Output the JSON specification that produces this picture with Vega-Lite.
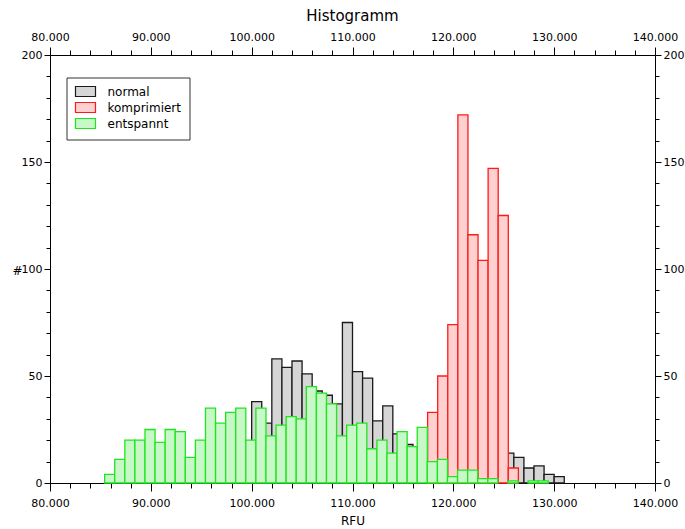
{
  "$schema": "https://vega.github.io/schema/vega-lite/v6.json",
  "width": 605,
  "height": 428,
  "autosize": "none",
  "padding": {"left": 50, "top": 55, "right": 30, "bottom": 46},
  "background": "white",
  "title": {"text": "Histogramm", "font": "DejaVu Sans", "fontSize": 15, "fontWeight": "normal", "color": "#000", "offset": 7, "anchor": "middle"},
  "config": {
    "view": {"stroke": null},
    "font": "DejaVu Sans",
    "axis": {"grid": false, "domainColor": "#000", "tickColor": "#000", "labelColor": "#000", "labelFont": "DejaVu Sans", "labelFontSize": 11, "titleFont": "DejaVu Sans", "titleFontWeight": "normal", "titleColor": "#000", "labelOverlap": false, "labelFlush": false, "domainWidth": 1, "tickWidth": 1}
  },
  "data": {"values": [
    {"s": "normal", "x0": 100000, "x1": 101000, "n": 38},
    {"s": "normal", "x0": 101000, "x1": 102000, "n": 28},
    {"s": "normal", "x0": 102000, "x1": 103000, "n": 58},
    {"s": "normal", "x0": 103000, "x1": 104000, "n": 54},
    {"s": "normal", "x0": 104000, "x1": 105000, "n": 57},
    {"s": "normal", "x0": 105000, "x1": 106000, "n": 51},
    {"s": "normal", "x0": 106000, "x1": 107000, "n": 43},
    {"s": "normal", "x0": 107000, "x1": 108000, "n": 41},
    {"s": "normal", "x0": 108000, "x1": 109000, "n": 37},
    {"s": "normal", "x0": 109000, "x1": 110000, "n": 75},
    {"s": "normal", "x0": 110000, "x1": 111000, "n": 52},
    {"s": "normal", "x0": 111000, "x1": 112000, "n": 49},
    {"s": "normal", "x0": 112000, "x1": 113000, "n": 29},
    {"s": "normal", "x0": 113000, "x1": 114000, "n": 36},
    {"s": "normal", "x0": 114000, "x1": 115000, "n": 23},
    {"s": "normal", "x0": 115000, "x1": 116000, "n": 18},
    {"s": "normal", "x0": 125000, "x1": 126000, "n": 14},
    {"s": "normal", "x0": 126000, "x1": 127000, "n": 12},
    {"s": "normal", "x0": 127000, "x1": 128000, "n": 7},
    {"s": "normal", "x0": 128000, "x1": 129000, "n": 8},
    {"s": "normal", "x0": 129000, "x1": 130000, "n": 4},
    {"s": "normal", "x0": 130000, "x1": 131000, "n": 3},
    {"s": "komprimiert", "x0": 117450, "x1": 118450, "n": 33},
    {"s": "komprimiert", "x0": 118450, "x1": 119450, "n": 50},
    {"s": "komprimiert", "x0": 119450, "x1": 120450, "n": 74},
    {"s": "komprimiert", "x0": 120450, "x1": 121450, "n": 172},
    {"s": "komprimiert", "x0": 121450, "x1": 122450, "n": 116},
    {"s": "komprimiert", "x0": 122450, "x1": 123450, "n": 104},
    {"s": "komprimiert", "x0": 123450, "x1": 124450, "n": 147},
    {"s": "komprimiert", "x0": 124450, "x1": 125450, "n": 125},
    {"s": "komprimiert", "x0": 125450, "x1": 126450, "n": 7},
    {"s": "entspannt", "x0": 85420, "x1": 86420, "n": 4},
    {"s": "entspannt", "x0": 86420, "x1": 87420, "n": 11},
    {"s": "entspannt", "x0": 87420, "x1": 88420, "n": 20},
    {"s": "entspannt", "x0": 88420, "x1": 89420, "n": 20},
    {"s": "entspannt", "x0": 89420, "x1": 90420, "n": 25},
    {"s": "entspannt", "x0": 90420, "x1": 91420, "n": 19},
    {"s": "entspannt", "x0": 91420, "x1": 92420, "n": 25},
    {"s": "entspannt", "x0": 92420, "x1": 93420, "n": 24},
    {"s": "entspannt", "x0": 93420, "x1": 94420, "n": 12},
    {"s": "entspannt", "x0": 94420, "x1": 95420, "n": 20},
    {"s": "entspannt", "x0": 95420, "x1": 96420, "n": 35},
    {"s": "entspannt", "x0": 96420, "x1": 97420, "n": 28},
    {"s": "entspannt", "x0": 97420, "x1": 98420, "n": 33},
    {"s": "entspannt", "x0": 98420, "x1": 99420, "n": 35},
    {"s": "entspannt", "x0": 99420, "x1": 100420, "n": 20},
    {"s": "entspannt", "x0": 100420, "x1": 101420, "n": 35},
    {"s": "entspannt", "x0": 101420, "x1": 102420, "n": 22},
    {"s": "entspannt", "x0": 102420, "x1": 103420, "n": 27},
    {"s": "entspannt", "x0": 103420, "x1": 104420, "n": 31},
    {"s": "entspannt", "x0": 104420, "x1": 105420, "n": 30},
    {"s": "entspannt", "x0": 105420, "x1": 106420, "n": 45},
    {"s": "entspannt", "x0": 106420, "x1": 107420, "n": 42},
    {"s": "entspannt", "x0": 107420, "x1": 108420, "n": 37},
    {"s": "entspannt", "x0": 108420, "x1": 109420, "n": 22},
    {"s": "entspannt", "x0": 109420, "x1": 110420, "n": 27},
    {"s": "entspannt", "x0": 110420, "x1": 111420, "n": 28},
    {"s": "entspannt", "x0": 111420, "x1": 112420, "n": 16},
    {"s": "entspannt", "x0": 112420, "x1": 113420, "n": 20},
    {"s": "entspannt", "x0": 113420, "x1": 114420, "n": 14},
    {"s": "entspannt", "x0": 114420, "x1": 115420, "n": 24},
    {"s": "entspannt", "x0": 115420, "x1": 116420, "n": 17},
    {"s": "entspannt", "x0": 116420, "x1": 117420, "n": 26},
    {"s": "entspannt", "x0": 117420, "x1": 118420, "n": 10},
    {"s": "entspannt", "x0": 118420, "x1": 119420, "n": 11},
    {"s": "entspannt", "x0": 119420, "x1": 120420, "n": 3},
    {"s": "entspannt", "x0": 120420, "x1": 121420, "n": 6},
    {"s": "entspannt", "x0": 121420, "x1": 122420, "n": 6},
    {"s": "entspannt", "x0": 122420, "x1": 123420, "n": 2},
    {"s": "entspannt", "x0": 123420, "x1": 124420, "n": 2},
    {"s": "entspannt", "x0": 125420, "x1": 126420, "n": 1},
    {"s": "entspannt", "x0": 127420, "x1": 128420, "n": 1},
    {"s": "entspannt", "x0": 128420, "x1": 129420, "n": 1}
  ]},
  "layer": [
    {
      "mark": {"type": "bar", "strokeWidth": 1.3},
      "encoding": {
        "x": {"field": "x0", "type": "quantitative", "scale": {"domain": [80000, 140000], "nice": false, "zero": false},
          "axis": {"orient": "bottom", "values": [80000,82000,84000,86000,88000,90000,92000,94000,96000,98000,100000,102000,104000,106000,108000,110000,112000,114000,116000,118000,120000,122000,124000,126000,128000,130000,132000,134000,136000,138000,140000],
            "labelExpr": "datum.value % 10000 === 0 ? replace(format(datum.value, ','), ',', '.') : ''",
            "tickSize": {"condition": {"test": "datum.value % 10000 === 0", "value": 8}, "value": 5},
            "labelPadding": 6, "title": "RFU", "titleFontSize": 12, "titlePadding": 7}},
        "x2": {"field": "x1"},
        "y": {"field": "n", "type": "quantitative", "stack": null, "scale": {"domain": [0, 200], "nice": false},
          "axis": {"orient": "left", "values": [0,10,20,30,40,50,60,70,80,90,100,110,120,130,140,150,160,170,180,190,200],
            "labelExpr": "datum.value % 50 === 0 ? datum.label : ''",
            "tickSize": {"condition": {"test": "datum.value % 50 === 0", "value": 6}, "value": 4},
            "labelPadding": 2, "title": "#", "titleAngle": 0, "titleX": -33, "titleY": 215, "titleAlign": "center", "titleBaseline": "middle", "titleFontSize": 12}},
        "y2": {"datum": 0},
        "fill": {"field": "s", "type": "nominal",
          "scale": {"domain": ["normal", "komprimiert", "entspannt"], "range": ["#d6d6d6", "#ffd0d0", "#c8f7c8"]},
          "legend": {"title": null, "orient": "none", "legendX": 16.5, "legendY": 22.5, "symbolType": "M-1,-1H3V1H-1Z", "symbolSize": 100, "symbolStrokeWidth": 1.2, "labelFont": "DejaVu Sans", "labelFontSize": 12, "labelColor": "#000", "labelOffset": 21, "padding": 8, "rowPadding": 0, "strokeColor": "#333", "fillColor": "white"}},
        "stroke": {"field": "s", "type": "nominal",
          "scale": {"domain": ["normal", "komprimiert", "entspannt"], "range": ["#1a1a1a", "#ff1a1a", "#1ee61e"]},
          "legend": {"title": null, "orient": "none", "legendX": 16.5, "legendY": 22.5, "symbolType": "M-1,-1H3V1H-1Z", "symbolSize": 100, "symbolStrokeWidth": 1.2, "labelFont": "DejaVu Sans", "labelFontSize": 12, "labelColor": "#000", "labelOffset": 21, "padding": 8, "rowPadding": 0, "strokeColor": "#333", "fillColor": "white"}}
      }
    },
    {
      "mark": {"type": "point", "opacity": 0},
      "encoding": {
        "x": {"field": "x0", "type": "quantitative", "scale": {"domain": [80000, 140000], "nice": false, "zero": false},
          "axis": {"orient": "top", "values": [80000,82000,84000,86000,88000,90000,92000,94000,96000,98000,100000,102000,104000,106000,108000,110000,112000,114000,116000,118000,120000,122000,124000,126000,128000,130000,132000,134000,136000,138000,140000],
            "labelExpr": "datum.value % 10000 === 0 ? replace(format(datum.value, ','), ',', '.') : ''",
            "tickSize": {"condition": {"test": "datum.value % 10000 === 0", "value": 8}, "value": 5},
            "labelPadding": 5, "title": null}},
        "y": {"field": "n", "type": "quantitative", "scale": {"domain": [0, 200], "nice": false},
          "axis": {"orient": "right", "values": [0,10,20,30,40,50,60,70,80,90,100,110,120,130,140,150,160,170,180,190,200],
            "labelExpr": "datum.value % 50 === 0 ? datum.label : ''",
            "tickSize": {"condition": {"test": "datum.value % 50 === 0", "value": 6}, "value": 4},
            "labelPadding": 2, "title": null}}
      }
    }
  ],
  "resolve": {"axis": {"x": "independent", "y": "independent"}}
}
